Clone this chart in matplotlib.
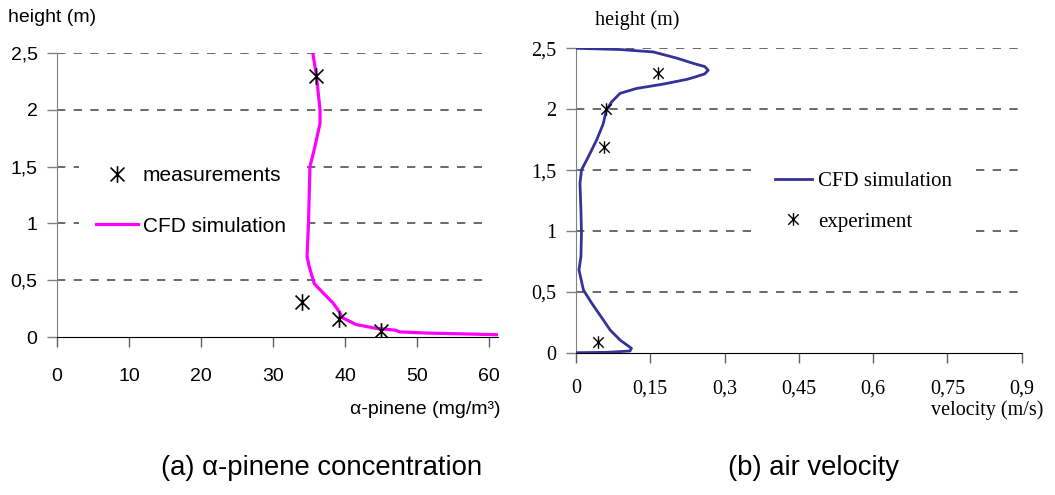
import numpy as np
import matplotlib
matplotlib.use("Agg")
import matplotlib.pyplot as plt
from matplotlib.path import Path

# (a) alpha-pinene concentration
conc_sim = [35.5, 36.0, 36.5, 36.5, 35.7, 35.1, 34.9, 34.7, 35.0, 35.7, 36.9, 38.3,
            39.2, 39.6, 41.5, 44.3, 47.0, 47.5, 51.2, 61.2]
height_sim_a = [2.5, 2.3, 2.0, 1.88, 1.65, 1.5, 1.0, 0.71, 0.62, 0.47, 0.39, 0.30,
                0.22, 0.17, 0.11, 0.076, 0.06, 0.045, 0.035, 0.02]
conc_meas = [36.0, 34.0, 39.2, 45.0]
height_meas = [2.3, 0.31, 0.16, 0.053]

# (b) air velocity
vel_sim = [0.0, 0.089, 0.156, 0.203, 0.237, 0.26, 0.267, 0.26, 0.237, 0.224, 0.176,
           0.122, 0.089, 0.072, 0.061, 0.055, 0.042, 0.025, 0.011, 0.008, 0.01,
           0.011, 0.01, 0.006, 0.015, 0.032, 0.055, 0.069, 0.089, 0.112, 0.109,
           0.062, 0.0]
height_sim_b = [2.5, 2.49, 2.47, 2.42, 2.376, 2.35, 2.32, 2.29, 2.26, 2.245, 2.206,
                2.17, 2.13, 2.06, 1.99, 1.88, 1.75, 1.61, 1.5, 1.39, 1.17, 0.98,
                0.79, 0.68, 0.515, 0.405, 0.27, 0.186, 0.104, 0.036, 0.014, 0.003, 0.0]
vel_exp = [0.166, 0.06, 0.057, 0.045]
height_exp = [2.3, 2.0, 1.69, 0.09]

yticks = [0, 0.5, 1, 1.5, 2, 2.5]
ylabels = ["0", "0,5", "1", "1,5", "2", "2,5"]
xticks_a = [0, 10, 20, 30, 40, 50, 60]
xticks_b = [0, 0.15, 0.3, 0.45, 0.6, 0.75, 0.9]
xlabels_b = ["0", "0,15", "0,3", "0,45", "0,6", "0,75", "0,9"]

sans = "Liberation Sans"
serif = "Liberation Serif"

# Excel style star marker: X with a vertical bar
star = Path([(-1, -1), (1, 1), (-1, 1), (1, -1), (0, -1.2), (0, 1.2)],
            [Path.MOVETO, Path.LINETO, Path.MOVETO, Path.LINETO, Path.MOVETO, Path.LINETO])

fig = plt.figure(figsize=(10.55, 4.95), dpi=100)
ax1 = fig.add_axes([57 / 1055, 1 - 337 / 495, 441 / 1055, 284 / 495])
ax2 = fig.add_axes([576 / 1055, 1 - 352.7 / 495, 445.7 / 1055, 304.4 / 495])


def style(ax, xmax_grid, font, tsize, xpad):
    ax.hlines(yticks[1:], 0, xmax_grid, colors="#505050", linestyles=(0, (5, 5)),
              linewidth=1.2, zorder=1)
    for s in ["top", "right"]:
        ax.spines[s].set_visible(False)
    ax.spines["left"].set_color("#808080")
    ax.spines["bottom"].set_color("black")
    ax.tick_params(axis="y", direction="out", length=7, width=1, color="#808080",
                   pad=7, labelsize=tsize)
    ax.tick_params(axis="x", direction="out", length=7, width=1, color="#606060",
                   pad=xpad, labelsize=tsize)
    for lab in ax.get_xticklabels() + ax.get_yticklabels():
        lab.set_family(font)


# ---- left panel
ax1.plot(conc_sim, height_sim_a, color="#FF00FF", lw=2.3, label="CFD simulation", zorder=3)
ax1.plot(conc_meas, height_meas, ls="none", marker=star, ms=12, mec="black", mew=1.2,
         label="measurements", zorder=4)
ax1.set_xlim(0, 61.2)
ax1.set_ylim(0, 2.5)
ax1.set_xticks(xticks_a)
ax1.set_yticks(yticks)
ax1.set_yticklabels(ylabels)
style(ax1, 60, sans, 14, 15)
h, l = ax1.get_legend_handles_labels()
leg1 = ax1.legend([h[1], h[0]], [l[1], l[0]], loc="center left",
                  bbox_to_anchor=(0.051, 0.479), frameon=True, facecolor="white",
                  edgecolor="none", framealpha=1, fancybox=False, borderpad=0.8,
                  handlelength=2.0, handletextpad=0.25, labelspacing=1.5,
                  borderaxespad=0, prop={"family": sans, "size": 15})
leg1.set_zorder(2)
fig.text(8 / 1055, 1 - 17 / 495, "height (m)", family=sans, size=14, va="center", ha="left")
fig.text(500 / 1055, 1 - 410 / 495, "α-pinene (mg/m³)", family=sans, size=14,
         va="center", ha="right")

# ---- right panel
ax2.plot(vel_sim, height_sim_b, color="#333399", lw=2.0, label="CFD simulation", zorder=3)
ax2.plot(vel_exp, height_exp, ls="none", marker=star, ms=9, mec="black", mew=1.0,
         label="experiment", zorder=4)
ax2.set_xlim(0, 0.9)
ax2.set_ylim(0, 2.5)
ax2.set_xticks(xticks_b)
ax2.set_xticklabels(xlabels_b)
ax2.set_yticks(yticks)
ax2.set_yticklabels(ylabels)
style(ax2, 0.9, serif, 14.5, 12)
leg2 = ax2.legend(loc="center left", bbox_to_anchor=(0.40, 0.496), frameon=True,
                  facecolor="white", edgecolor="none", framealpha=1, fancybox=False,
                  borderpad=1.0, handlelength=1.75, handletextpad=0.3, labelspacing=1.0,
                  borderaxespad=0, prop={"family": serif, "size": 15})
leg2.set_zorder(2)
fig.text(595 / 1055, 1 - 20 / 495, "height (m)", family=serif, size=14.5, va="center", ha="left")
fig.text(1043 / 1055, 1 - 410 / 495, "velocity (m/s)", family=serif, size=14.5,
         va="center", ha="right")

# captions
fig.text(322 / 1055, 1 - 468 / 495, "(a) α-pinene concentration", family=sans,
         size=19.8, ha="center", va="center")
fig.text(814 / 1055, 1 - 468 / 495, "(b) air velocity", family=sans,
         size=19.8, ha="center", va="center")

fig.savefig("out.png", dpi=100)
